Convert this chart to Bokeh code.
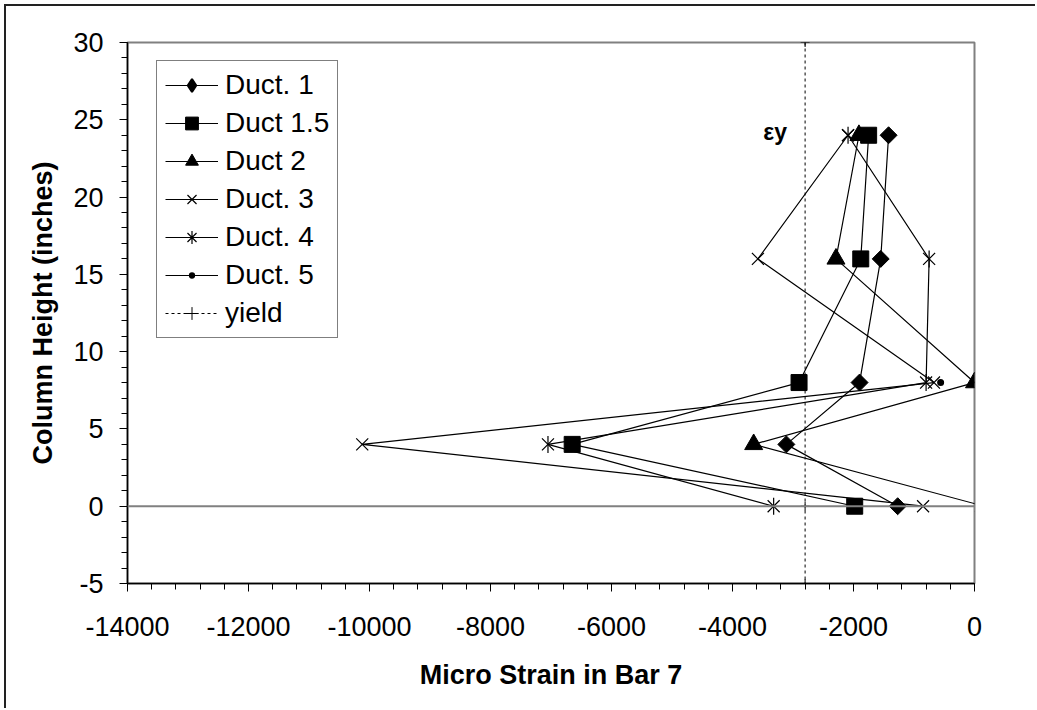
import math
from bokeh.plotting import figure
from bokeh.models import FixedTicker, Span, Label, Range1d
from bokeh.embed import file_html
from bokeh.resources import INLINE

# ---------------- data ----------------
heights = [0, 4, 8, 16, 24]
duct_1 = [-1270, -3110, -1900, -1550, -1420]
duct_1_5 = [-1980, -6650, -2900, -1880, -1750]
duct_2 = [160, -3650, 0, -2290, -1910]
duct_3 = [-850, -10120, -670, -3580, -2090]
duct_4 = [-3320, -7050, -800, -750, -2090]
duct_5 = [float("nan"), float("nan"), -560, float("nan"), float("nan")]
yield_x = [-2800, -2800, -2800]
yield_y = [30, 0, -5]
x_ticks = [-14000, -12000, -10000, -8000, -6000, -4000, -2000, 0]
y_ticks = [-5, 0, 5, 10, 15, 20, 25, 30]

FONT = "Liberation Sans"

p = figure(width=1031, height=704, output_backend="svg", toolbar_location=None,
           x_range=Range1d(-14000, 0), y_range=Range1d(-5, 30),
           min_border_left=121, min_border_right=63, min_border_top=36, min_border_bottom=127)
p.styles = {"margin-left": "4px", "margin-top": "4px",
            "border-left": "2px solid #222222", "border-top": "2px solid #222222"}
p.xgrid.visible = False
p.ygrid.visible = False
p.outline_line_color = "#808080"
p.outline_line_width = 2
p.background_fill_color = "white"
p.border_fill_color = "white"

p.add_layout(Span(location=0, dimension="width", line_color="#808080", line_width=2))

for ax in (p.xaxis[0], p.yaxis[0]):
    ax.axis_line_color = "black"
    ax.axis_line_width = 1.5
    ax.major_tick_line_color = "black"
    ax.minor_tick_line_color = "black"
    ax.major_tick_in = 0
    ax.minor_tick_in = 0
    ax.major_tick_out = 8
    ax.minor_tick_out = 6
    ax.major_label_text_font = FONT
    ax.major_label_text_font_size = "27px"
    ax.major_label_text_color = "black"
    ax.axis_label_text_font = FONT
    ax.axis_label_text_font_size = "27px"
    ax.axis_label_text_font_style = "bold"
    ax.axis_label_text_color = "black"

p.xaxis.ticker = FixedTicker(ticks=x_ticks, minor_ticks=list(range(-14000, 1, 400)))
p.yaxis.ticker = FixedTicker(ticks=y_ticks, minor_ticks=list(range(-5, 31, 1)))
p.xaxis.major_label_overrides = {v: str(v) for v in x_ticks}
p.yaxis.major_label_overrides = {v: str(v) for v in y_ticks}
p.xaxis.axis_label = "Micro Strain in Bar 7"
p.yaxis.axis_label = "Column Height (inches)"
p.xaxis.major_label_standoff = 25
p.xaxis.axis_label_standoff = 21
p.yaxis.major_label_standoff = 16
p.yaxis.axis_label_standoff = 12

LW = 1.2
# yield line
p.line(yield_x, yield_y, line_color="black", line_width=1, line_dash="3 3", legend_label="yield")
p.scatter(yield_x, yield_y, marker="cross", size=9, line_color="black", line_width=1, legend_label="yield")

series = [
    ("Duct. 1", duct_1),
    ("Duct 1.5", duct_1_5),
    ("Duct 2", duct_2),
    ("Duct. 3", duct_3),
    ("Duct. 4", duct_4),
    ("Duct. 5", duct_5),
]
lines = {}
for name, xs in series:
    lines[name] = p.line(xs, heights, line_color="black", line_width=LW, legend_label=name)

# Duct 1: diamonds (rotated squares in the plot, diamond glyph in the legend)
p.scatter(duct_1, heights, marker="square", angle=math.pi / 4, size=12,
          fill_color="black", line_color="black")
d1_leg = p.scatter(duct_1, heights, marker="diamond", size=18,
                   fill_color="black", line_color="black", line_width=2, legend_label="Duct. 1")
d1_leg.visible = False

p.scatter(duct_1_5, heights, marker="square", size=16,
          fill_color="black", line_color="black", legend_label="Duct 1.5")
p.scatter(duct_2, heights, marker="triangle", size=18,
          fill_color="black", line_color="black", legend_label="Duct 2")
p.scatter(duct_3, heights, marker="x", size=17, line_color="black", line_width=1.2,
          legend_label="Duct. 3")

# Duct 4: star = x + vertical bar in the plot, asterisk glyph in the legend
p.scatter(duct_4, heights, marker="x", size=17, line_color="black", line_width=1.2)
p.scatter(duct_4, heights, marker="dash", angle=math.pi / 2, size=17, line_color="black",
          line_width=1.2)
d4_leg = p.scatter(duct_4, heights, marker="asterisk", size=17, line_color="black",
                   line_width=1.2, legend_label="Duct. 4")
d4_leg.visible = False

# Duct 5: small dots
p.scatter(duct_5, heights, marker="dot", size=28, fill_color="black", line_color="black")
d5_leg = p.scatter(duct_5, heights, marker="circle", size=12, fill_color="black",
                   line_color="white", line_width=6.5, legend_label="Duct. 5")
d5_leg.visible = False

p.add_layout(Label(x=-3490, y=24.2, text="εy", text_font=FONT, text_font_size="23px",
                   text_font_style="bold", text_color="black", text_baseline="alphabetic"))

lg = p.legend[0]
order = ["Duct. 1", "Duct 1.5", "Duct 2", "Duct. 3", "Duct. 4", "Duct. 5", "yield"]
lg.items = sorted(lg.items, key=lambda it: order.index(it.label.value))
for it in lg.items:
    if it.label.value == "Duct. 5":
        it.renderers = [d5_leg, lines["Duct. 5"]]
lg.location = (29, 245)
lg.label_text_font = FONT
lg.label_text_font_size = "28px"
lg.label_text_color = "black"
lg.glyph_width = 53
lg.glyph_height = 32
lg.label_height = 32
lg.spacing = 6
lg.padding = 8
lg.margin = 0
lg.label_standoff = 7
lg.border_line_color = "black"
lg.border_line_width = 1
lg.background_fill_alpha = 1

open("out.html", "w").write(file_html(p, INLINE))
